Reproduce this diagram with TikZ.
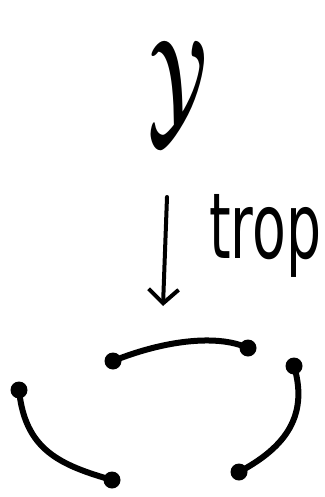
\documentclass[tikz,border=0pt]{standalone}
\usepackage{fontspec}
\setmainfont{DejaVu Sans}
\usepackage{amsmath,amsbsy}
\usetikzlibrary{arrows.meta}
\begin{document}
\begin{tikzpicture}[x=1pt,y=-1pt,
  curve/.style={line width=6pt,line cap=round,line join=round},
  blob/.style={circle,fill=black,inner sep=0pt,minimum size=17pt},
  arrowline/.style={line width=4pt,line cap=round,-{Straight Barb[length=14pt,width=30pt,line width=4pt]}}]
\useasboundingbox (0,0) rectangle (324,497);
% label Y
\node[inner sep=4pt] (Y) at (178,92) {\scalebox{7}[13]{$\boldsymbol{\mathcal{Y}}$}};
% arrow
\coordinate (a1) at (167,197);
\coordinate (a2) at (163,306);
\draw[arrowline] (a1) -- (a2);
\node[inner sep=0pt,anchor=west] (trop) at (209,236) {\resizebox{112pt}{64pt}{trop}};
% dots
\node[blob] (p1) at (113,361) {};
\node[blob] (p2) at (248,348) {};
\node[blob] (p3) at (19,390) {};
\node[blob] (p4) at (112,480) {};
\node[blob] (p5) at (294,366) {};
\node[blob] (p6) at (239,472) {};
% arcs
\draw[curve] (p1.center) .. controls (160,342) and (215,333) .. (p2.center);
\draw[curve] (p3.center) .. controls (25,450) and (60,465) .. (p4.center);
\draw[curve] (p5.center) .. controls (310,420) and (280,450) .. (p6.center);
\end{tikzpicture}
\end{document}
